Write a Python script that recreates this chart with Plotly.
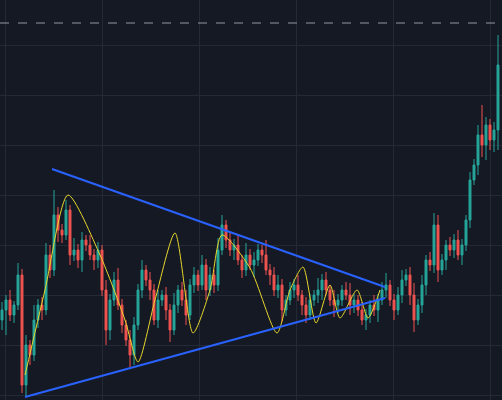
import numpy as np
import plotly.graph_objects as go

# candle data (index, price)
opens = [80,90,100,85,95,125,15,55,45,80, 95,90,145,130,185,170,165,190,145,150,
         140,160,155,145,140,150,110,70,100,120, 95,75,60,45,75,110,130,120,110,80,
         100,105,90,70,95,110,100,85,115,125, 115,135,110,125,115,150,175,160,150,155,
         140,130,145,135,140,150,145,130,125,110, 115,90,100,110,115,105,95,85,100,105,
         110,120,110,100,95,100,110,105,95,100, 90,80,85,95,90,100,110,115,100,90,
         105,120,125,105,80,95,115,140,135,175, 130,140,155,150,160,145,155,180,220,235,
         265,255,275,260,270]
closes = [90,100,85,95,125,15,55,45,80,95, 90,145,130,185,170,165,190,145,150,140,
          160,155,145,140,150,110,70,100,120,95, 75,60,45,75,110,130,120,110,80,100,
          105,90,70,95,110,100,85,115,125,115, 135,110,125,115,150,175,160,150,155,140,
          130,145,135,140,150,145,130,125,110,115, 90,100,110,115,105,95,85,100,105,110,
          120,110,100,95,100,110,105,95,100,90, 80,85,95,90,100,110,115,100,90,105,
          120,125,105,80,95,115,140,135,175,130, 140,155,150,160,145,155,180,220,235,265,
          255,275,260,270,335]
wick_up = [8,5,10,4,12,6,10,5,15,6, 8,12,10,25,8,6,10,5,12,6, 8,5,10,6,8,5,10,6,8,12,
           6,5,10,8,6,10,5,8,6,10, 5,8,6,12,5,8,10,6,8,5, 10,6,8,5,12,10,5,8,6,10,
           5,12,6,8,6,5,15,6,8,10, 6,5,8,6,10,5,8,6,5,12, 6,8,5,10,6,5,8,12,6,5,
           8,6,5,10,6,8,12,5,6,8, 10,6,8,12,6,10,5,8,12,10, 6,5,8,6,10,6,5,8,6,10,
           30,8,6,8,30]
wick_dn = [10,25,6,8,5,8,12,10,6,8, 10,5,8,6,12,8,5,10,6,8, 12,6,5,10,8,6,15,10,6,5,
           8,6,12,10,5,8,6,10,5,8, 6,10,12,5,8,6,10,5,8,6, 5,10,6,8,6,5,8,6,10,5,
           8,6,5,12,6,8,5,10,6,8, 12,6,5,8,6,10,8,5,6,8, 10,5,6,12,8,6,5,10,8,6,
           5,10,8,6,12,5,8,6,10,5, 8,6,10,12,5,8,10,6,8,12, 5,10,6,8,5,10,6,8,5,10,
           12,15,10,12,20]

# triangle boundaries
upper_x = [12.5, 95.75]
upper_y = [231, 113]
lower_x = [5.75, 95.75]
lower_y = [3, 102]

# yellow wave
wave_x = [5.75,10.75,16.5,24.5,30.75,34,38.25,43.25,47.75,52,55,62,68.75,72,75.25,78.5,82,84.5,88.75,91.5,94.5]
wave_y = [25,110,205,145,80,38,100,167,67,110,165,132,67,110,133,77,115,82,110,82,110]

level = 377

idx = np.arange(len(closes))
o = np.array(opens); c = np.array(closes)
highs = np.maximum(o, c) + np.array(wick_up)
lows = np.minimum(o, c) - np.array(wick_dn)

fig = go.Figure()
fig.add_trace(go.Candlestick(
    x=idx, open=opens, high=highs, low=lows, close=closes,
    increasing=dict(line=dict(color="#26a69a", width=1), fillcolor="#26a69a"),
    decreasing=dict(line=dict(color="#ef5350", width=1), fillcolor="#ef5350"),
    whiskerwidth=0, showlegend=False))
fig.add_trace(go.Scatter(x=wave_x, y=wave_y, mode="lines",
                         line=dict(color="#e8d62c", width=1, shape="spline", smoothing=0.7),
                         showlegend=False))
fig.add_trace(go.Scatter(x=upper_x, y=upper_y, mode="lines",
                         line=dict(color="#2962ff", width=2), showlegend=False))
fig.add_trace(go.Scatter(x=lower_x, y=lower_y, mode="lines",
                         line=dict(color="#2962ff", width=2), showlegend=False))
fig.add_hline(y=level, line=dict(color="#9598a1", width=1, dash="dash"))

fig.update_layout(
    width=502, height=400, margin=dict(l=0, r=0, t=0, b=0),
    paper_bgcolor="#151924", plot_bgcolor="#151924",
    xaxis=dict(range=[-0.5, 125], showgrid=True, gridcolor="#242936",
               tick0=0.75, dtick=24.25, showticklabels=False, zeroline=False,
               rangeslider=dict(visible=False)),
    yaxis=dict(range=[0, 400], showgrid=True, gridcolor="#242936",
               tick0=5, dtick=50, showticklabels=False, zeroline=False),
)
fig.write_html("out.html", config={"displayModeBar": False})

# drop the default page margin so the chart fills the window
with open("out.html") as f:
    page = f.read()
page = page.replace("<body>", '<body style="margin:0;background:#151924">', 1)
with open("out.html", "w") as f:
    f.write(page)
